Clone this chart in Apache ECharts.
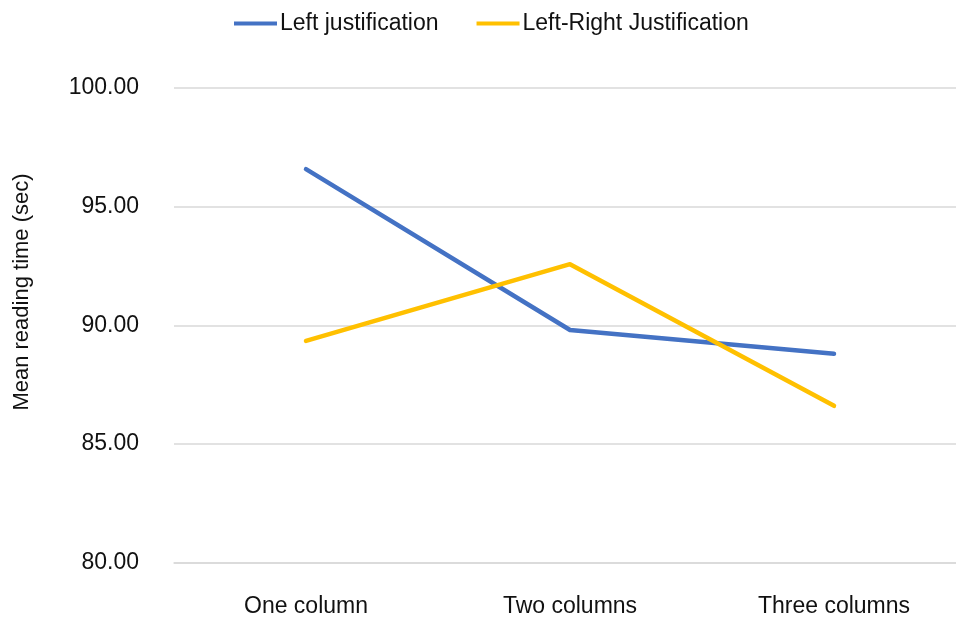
<!DOCTYPE html>
<html>
<head>
<meta charset="utf-8">
<script src="https://cdn.jsdelivr.net/npm/echarts@6/dist/echarts.min.js"></script>
<style>
html,body{margin:0;padding:0;background:#fff;overflow:hidden;}
#chart{width:966px;height:619px;}
</style>
</head>
<body>
<div id="chart"></div>
<script>
const categories = ['One column', 'Two columns', 'Three columns'];
const leftJustification = [96.57, 89.80, 88.80];
const leftRightJustification = [89.34, 92.57, 86.61];
const seriesNames = ['Left justification', 'Left-Right Justification'];
const yTitle = 'Mean reading time (sec)';

const FONT = '"Liberation Sans", Arial, sans-serif';
const chart = echarts.init(document.getElementById('chart'), null, {renderer: 'canvas'});
chart.setOption({
  animation: false,
  backgroundColor: '#ffffff',
  legend: {
    top: 7,
    left: 229,
    itemGap: 38,
    itemWidth: 43,
    itemHeight: 4,
    icon: 'rect',
    textStyle: {fontFamily: FONT, fontSize: 23, color: '#111', padding: [0, 0, 0, -2]},
    data: seriesNames
  },
  grid: {left: 174, right: 0, top: 87.5, height: 475.5, containLabel: false},
  xAxis: {
    type: 'category',
    data: categories,
    boundaryGap: true,
    axisLine: {show: true, lineStyle: {color: '#d9d9d9', width: 1.5}},
    axisTick: {show: false},
    axisLabel: {fontFamily: FONT, fontSize: 23, color: '#111', margin: 32}
  },
  yAxis: {
    type: 'value',
    min: 80, max: 100, interval: 5,
    axisLine: {show: false},
    axisTick: {show: false},
    splitLine: {lineStyle: {color: '#d9d9d9', width: 1.5}},
    axisLabel: {fontFamily: FONT, fontSize: 23, color: '#111', margin: 35,
      formatter: v => v.toFixed(2)}
  },
  graphic: [{
    type: 'text',
    x: 22, y: 292,
    rotation: Math.PI / 2,
    style: {text: yTitle, font: '22px "Liberation Sans", Arial, sans-serif', fill: '#111',
      align: 'center', verticalAlign: 'middle'}
  }],
  series: [
    {name: seriesNames[0], type: 'line', data: leftJustification, symbol: 'none',
      itemStyle: {color: '#4472C4'},
      lineStyle: {color: '#4472C4', width: 4.5, cap: 'round', join: 'round'}},
    {name: seriesNames[1], type: 'line', data: leftRightJustification, symbol: 'none',
      itemStyle: {color: '#FFC000'},
      lineStyle: {color: '#FFC000', width: 4.5, cap: 'round', join: 'round'}}
  ]
});
</script>
</body>
</html>
